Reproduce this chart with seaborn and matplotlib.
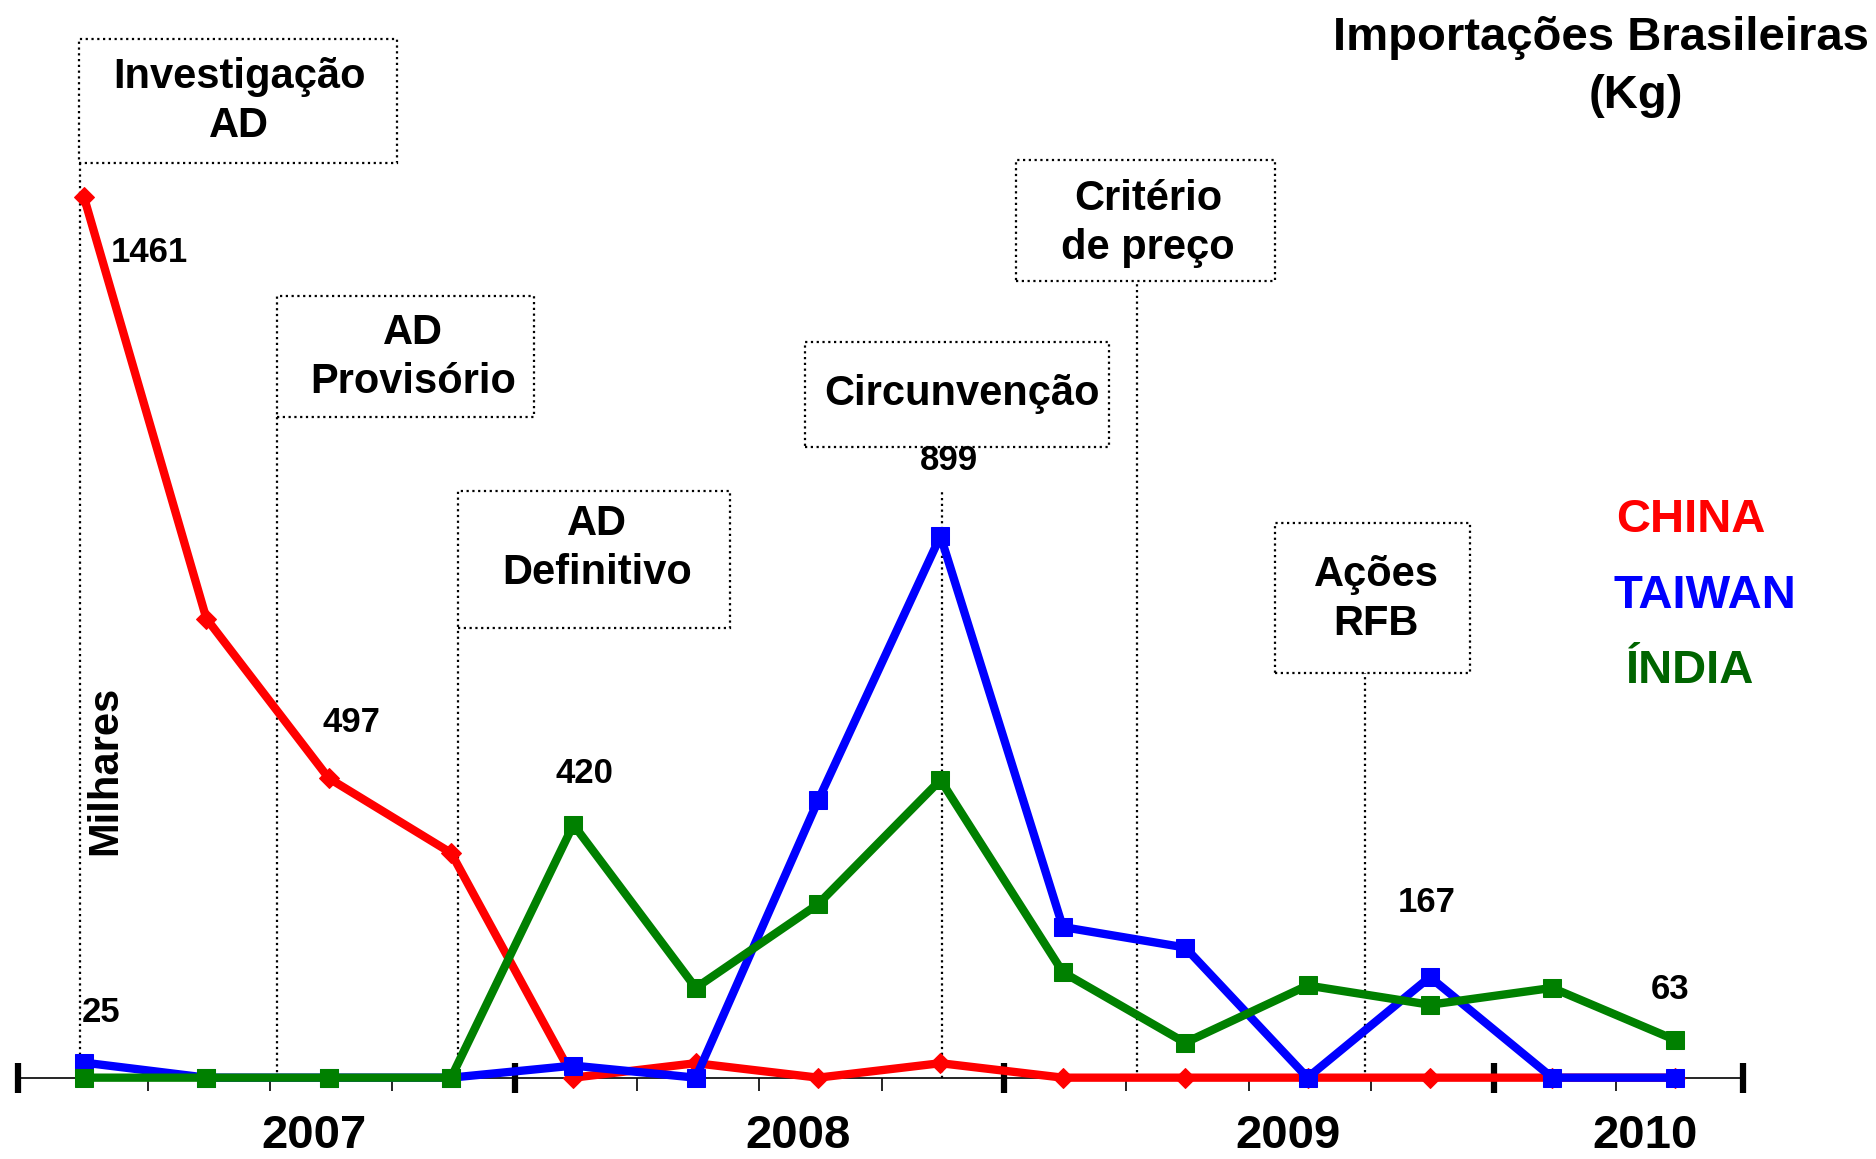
import numpy as np
import pandas as pd
import matplotlib
matplotlib.use("Agg")
import matplotlib.pyplot as plt
import seaborn as sns
from matplotlib.patches import Rectangle

# trimestres 2007T1 .. 2010T2 (milhares de kg)
trimestres = ['2007T1', '2007T2', '2007T3', '2007T4',
              '2008T1', '2008T2', '2008T3', '2008T4',
              '2009T1', '2009T2', '2009T3', '2009T4',
              '2010T1', '2010T2']
china = [1461, 762, 497, 373, 0, 24, 0, 24, 0, 0, 0, 0, 0, 0]
taiwan = [25, 0, 0, 0, 20, 0, 460, 899, 250, 216, 0, 167, 0, 0]
india = [0, 0, 0, 0, 420, 149, 288, 494, 175, 58, 153, 121, 149, 63]

anos = ['2007', '2008', '2009', '2010']
anos_pos = [1.88, 5.84, 9.84, 12.76]
limites_ano = [-0.54, 3.52, 7.52, 11.52, 13.56]

# eventos: texto, posicao da linha, caixa (x0, x1, y0, y1), posicao do texto
eventos = ['Investigação\nAD', 'AD\nProvisório', 'AD\nDefinitivo',
           'Circunvenção', 'Critério\nde preço', 'Ações\nRFB']
eventos_x = [-0.03, 1.574, 3.06, 7.01, 8.61, 10.47]
caixas = [(-0.04, 2.56, 1518, 1723), (1.574, 3.675, 1096, 1298),
          (3.06, 5.28, 746, 973), (5.89, 8.38, 1046, 1221),
          (7.62, 9.73, 1322, 1523), (9.73, 11.33, 671, 921)]
texto_xy = [(1.27, 1620), (2.69, 1195), (4.19, 878), (7.175, 1135),
            (8.695, 1418), (10.56, 794)]
linha_topo = [1518, 1096, 746, 973, 1322, 671]

# rotulos de valor: (serie, indice, dx, dy em pontos)
rotulos = [('china', 0, 47, -40), ('china', 2, 16, 40), ('india', 4, 8, 37),
           ('taiwan', 7, 6, 54), ('taiwan', 0, 12, 36), ('taiwan', 11, -2, 54),
           ('india', 13, -3, 36)]

df = pd.DataFrame({'q': np.arange(len(trimestres)), 'china': china,
                   'taiwan': taiwan, 'india': india})

sns.set_style('white')
plt.rcParams['font.family'] = ['Liberation Sans', 'DejaVu Sans']
plt.rcParams['font.weight'] = 'bold'
plt.rcParams['text.color'] = 'black'

fig = plt.figure(figsize=(18.76, 11.59), dpi=100)
ax = fig.add_axes([0.00957, 0.07018, 0.9196, 0.9298])

estilo = dict(linewidth=6, legend=False, clip_on=False, ax=ax)
sns.lineplot(data=df, x='q', y='china', color='#ff0000', marker='D',
             markersize=10, markeredgecolor='#ff0000', zorder=3, **estilo)
sns.lineplot(data=df, x='q', y='taiwan', color='#0000ff', marker='s',
             markersize=13, markeredgecolor='#0000ff', zorder=4, **estilo)
sns.lineplot(data=df, x='q', y='india', color='#008000', marker='s',
             markersize=13, markeredgecolor='#008000', zorder=5, **estilo)

ax.set_xlim(limites_ano[0], limites_ano[-1])
ax.set_ylim(0, 1788.5)
for s in ['top', 'right', 'left']:
    ax.spines[s].set_visible(False)
ax.spines['bottom'].set_linewidth(1.2)
ax.spines['bottom'].set_color('black')
ax.set_yticks([])
ax.set_xlabel('')
ax.set_ylabel('')

minor = [k + 0.52 for k in range(13) if k not in (3, 7, 11)]
ax.set_xticks(limites_ano)
ax.set_xticklabels([])
ax.set_xticks(minor, minor=True)
ax.tick_params(axis='x', which='both', bottom=True)
ax.tick_params(axis='x', which='major', direction='inout', length=22, width=4.5, color='black')
ax.tick_params(axis='x', which='minor', direction='out', length=9, width=1.2, color='black')

for ano, xp in zip(anos, anos_pos):
    ax.text(xp, -0.054, ano, transform=ax.get_xaxis_transform(), ha='center',
            va='center', fontsize=34, fontweight='bold')

pontilhado = (0, (1, 1.6))
for txt, xl, (x0, x1, y0, y1), (tx, ty), yt in zip(eventos, eventos_x, caixas,
                                                   texto_xy, linha_topo):
    ax.add_patch(Rectangle((x0, y0), x1 - x0, y1 - y0, fill=False, edgecolor='black',
                           linewidth=1.6, linestyle=pontilhado, clip_on=False))
    ax.plot([xl, xl], [0, yt], color='black', linewidth=1.6, linestyle=pontilhado,
            zorder=1, clip_on=False)
    ax.text(tx, ty, txt, ha='center', va='center',
            fontsize=30, fontweight='bold', linespacing=1.3)

series = {'china': china, 'taiwan': taiwan, 'india': india}
for serie, i, dx, dy in rotulos:
    v = series[serie][i]
    ax.annotate(str(v), xy=(i, v), xytext=(dx, dy), textcoords='offset points',
                ha='center', va='center', fontsize=25, fontweight='bold')

fig.text(0.0561, 0.3354, 'Milhares', rotation=90, ha='center', va='center',
         fontsize=30, fontweight='bold')
fig.text(0.9962, 0.967, 'Importações Brasileiras', ha='right', va='center',
         fontsize=34, fontweight='bold')
fig.text(0.8718, 0.917, '(Kg)', ha='center', va='center', fontsize=34, fontweight='bold')

fig.text(0.9011, 0.551, 'CHINA', color='#ff0000', ha='center', va='center',
         fontsize=34, fontweight='bold')
fig.text(0.9088, 0.486, 'TAIWAN', color='#0000ff', ha='center', va='center',
         fontsize=34, fontweight='bold')
fig.text(0.9005, 0.421, 'ÍNDIA', color='#006400', ha='center', va='center',
         fontsize=34, fontweight='bold')

fig.savefig('out.png', dpi=100, facecolor='white')
